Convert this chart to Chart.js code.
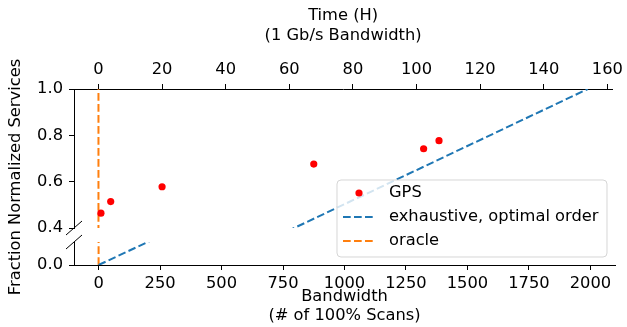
<!DOCTYPE html>
<html>
<head>
<meta charset="utf-8">
<script src="https://cdn.jsdelivr.net/npm/chart.js@4.4.0/dist/chart.umd.min.js"></script>
<style>
  body { margin: 0; background: #fff; }
  #wrap { position: relative; width: 627px; height: 327px; }
  canvas { position: absolute; left: 0; top: 0; }
</style>
</head>
<body>
<div id="wrap">
  <canvas id="upper" width="627" height="327"></canvas>
  <canvas id="lower" width="627" height="327"></canvas>
</div>
<script>
// data
const gpsBandwidth = [10, 50, 260, 880, 1329, 1392];
const gpsFraction = [0.464, 0.514, 0.578, 0.676, 0.742, 0.777];
const exhaustiveBandwidth = [0, 2000];
const exhaustiveFraction = [0.0, 1.0];
const oracleBandwidth = [0, 0];
const oracleFraction = [0.0, 1.0];

// axes
const bandwidthRange = [-100, 2100];
const scansPerHour = 13;
const bandwidthTicks = [0, 250, 500, 750, 1000, 1250, 1500, 1750, 2000];
const timeTicks = [0, 20, 40, 60, 80, 100, 120, 140, 160];
const upperRange = [0.4, 1.0];
const upperTicks = [0.4, 0.6, 0.8, 1.0];
const lowerRange = [0.0, 0.1];
const lowerTicks = [0.0];

const FONT = 'DejaVu Sans';
const FONT_SIZE = 16.3;
const tickFont = { family: FONT, size: FONT_SIZE, lineHeight: 1.2 };
const titleFont = { family: FONT, size: FONT_SIZE, lineHeight: 1.2 };
const dash = [7.7, 3.3];

function toPoints(xs, ys) {
  return xs.map((x, i) => ({ x: x, y: ys[i] }));
}

function makeDatasets() {
  return [
    {
      label: 'GPS',
      data: toPoints(gpsBandwidth, gpsFraction),
      showLine: false,
      pointRadius: 3.6,
      pointBackgroundColor: 'red',
      pointBorderWidth: 0,
      clip: 0
    },
    {
      label: 'exhaustive, optimal order',
      data: toPoints(exhaustiveBandwidth, exhaustiveFraction),
      showLine: true,
      borderColor: '#1f77b4',
      borderWidth: 2,
      borderDash: dash,
      pointRadius: 0,
      clip: 0
    },
    {
      label: 'oracle',
      data: toPoints(oracleBandwidth, oracleFraction),
      showLine: true,
      borderColor: '#ff7f0e',
      borderWidth: 2,
      borderDash: dash,
      pointRadius: 0,
      clip: 0
    }
  ];
}

const tickGrid = {
  display: true,
  drawOnChartArea: false,
  drawTicks: true,
  tickLength: 5,
  lineWidth: 1,
  color: '#000'
};
const spine = { display: true, color: '#000', width: 1 };

function fixedTicks(values) {
  return (scale) => { scale.ticks = values.map(v => ({ value: v })); };
}

// diagonal break marks on the left spine
const breakMarks = {
  id: 'breakMarks',
  afterDraw(chart, args, opts) {
    const ctx = chart.ctx;
    const x = chart.chartArea.left;
    const y = opts.edge === 'bottom' ? chart.chartArea.bottom : chart.chartArea.top;
    ctx.save();
    ctx.strokeStyle = '#000';
    ctx.lineWidth = 1;
    ctx.beginPath();
    ctx.moveTo(x - 8, y + 7);
    ctx.lineTo(x + 8, y - 7);
    ctx.stroke();
    ctx.restore();
  }
};

let upperChart = null;

// shared y title + legend, drawn on the lower canvas (which sits on top)
const overlay = {
  id: 'overlay',
  afterDraw(chart) {
    const ctx = chart.ctx;
    const top = upperChart ? upperChart.chartArea.top : 89;
    const mid = (top + chart.chartArea.bottom) / 2;
    const font = FONT_SIZE + 'px "' + FONT + '"';

    ctx.save();
    ctx.fillStyle = '#000';
    ctx.font = font;
    ctx.textAlign = 'center';
    ctx.textBaseline = 'middle';
    ctx.translate(16, mid);
    ctx.rotate(-Math.PI / 2);
    ctx.fillText('Fraction Normalized Services', 0, 0);
    ctx.restore();

    // legend box
    const bx = 337, by = 180, bw = 270, bh = 77, r = 4;
    ctx.save();
    ctx.beginPath();
    ctx.moveTo(bx + r, by);
    ctx.arcTo(bx + bw, by, bx + bw, by + bh, r);
    ctx.arcTo(bx + bw, by + bh, bx, by + bh, r);
    ctx.arcTo(bx, by + bh, bx, by, r);
    ctx.arcTo(bx, by, bx + bw, by, r);
    ctx.closePath();
    ctx.fillStyle = 'rgba(255,255,255,0.8)';
    ctx.fill();
    ctx.strokeStyle = 'rgba(204,204,204,0.8)';
    ctx.lineWidth = 1;
    ctx.stroke();

    chart.data.datasets.forEach((ds, i) => {
      const y = 193 + i * 24;
      if (ds.showLine) {
        ctx.beginPath();
        ctx.setLineDash(ds.borderDash);
        ctx.strokeStyle = ds.borderColor;
        ctx.lineWidth = ds.borderWidth;
        ctx.moveTo(343, y);
        ctx.lineTo(375, y);
        ctx.stroke();
        ctx.setLineDash([]);
      } else {
        ctx.beginPath();
        ctx.fillStyle = ds.pointBackgroundColor;
        ctx.arc(359, y, ds.pointRadius, 0, Math.PI * 2);
        ctx.fill();
      }
      ctx.fillStyle = '#000';
      ctx.font = font;
      ctx.textAlign = 'left';
      ctx.textBaseline = 'middle';
      ctx.fillText(ds.label, 389, y);
    });
    ctx.restore();
  }
};

const baseOptions = {
  responsive: false,
  animation: false,
  events: [],
  plugins: { legend: { display: false }, tooltip: { enabled: false } }
};

upperChart = new Chart(document.getElementById('upper'), {
  type: 'scatter',
  data: { datasets: makeDatasets() },
  plugins: [breakMarks],
  options: {
    ...baseOptions,
    layout: { padding: { left: 0, right: 12, top: 0, bottom: 99 }, autoPadding: false },
    plugins: { ...baseOptions.plugins, breakMarks: { edge: 'bottom' } },
    scales: {
      x: { type: 'linear', position: 'bottom', min: bandwidthRange[0], max: bandwidthRange[1], display: false },
      time: {
        type: 'linear',
        axis: 'x',
        position: 'top',
        min: bandwidthRange[0] / scansPerHour,
        max: bandwidthRange[1] / scansPerHour,
        afterBuildTicks: fixedTicks(timeTicks),
        afterFit: (s) => { s.height = 89; },
        ticks: { callback: v => String(v), padding: 4, color: '#000', font: tickFont, maxRotation: 0 },
        grid: tickGrid,
        border: spine,
        title: {
          display: true,
          text: ['Time (H)', '(1 Gb/s Bandwidth)'],
          color: '#000',
          font: titleFont,
          padding: { top: 6, bottom: 0 }
        }
      },
      y: {
        type: 'linear',
        position: 'left',
        min: upperRange[0],
        max: upperRange[1],
        afterBuildTicks: fixedTicks(upperTicks),
        afterFit: (s) => { s.width = 74; },
        ticks: { callback: v => v.toFixed(1), padding: 6, color: '#000', font: tickFont },
        grid: tickGrid,
        border: spine
      }
    }
  }
});

new Chart(document.getElementById('lower'), {
  type: 'scatter',
  data: { datasets: makeDatasets() },
  plugins: [breakMarks, overlay],
  options: {
    ...baseOptions,
    layout: { padding: { left: 0, right: 12, top: 242, bottom: 0 }, autoPadding: false },
    plugins: { ...baseOptions.plugins, breakMarks: { edge: 'top' } },
    scales: {
      x: {
        type: 'linear',
        position: 'bottom',
        min: bandwidthRange[0],
        max: bandwidthRange[1],
        afterBuildTicks: fixedTicks(bandwidthTicks),
        afterFit: (s) => { s.height = 62; },
        ticks: { callback: v => String(v), padding: 4, color: '#000', font: tickFont, maxRotation: 0 },
        grid: tickGrid,
        border: spine,
        title: {
          display: true,
          text: ['Bandwidth', '(# of 100% Scans)'],
          color: '#000',
          font: titleFont,
          padding: { top: 0, bottom: 1 }
        }
      },
      y: {
        type: 'linear',
        position: 'left',
        min: lowerRange[0],
        max: lowerRange[1],
        afterBuildTicks: fixedTicks(lowerTicks),
        afterFit: (s) => { s.width = 74; },
        ticks: { callback: v => v.toFixed(1), padding: 6, color: '#000', font: tickFont },
        grid: tickGrid,
        border: spine
      }
    }
  }
});
</script>
</body>
</html>
